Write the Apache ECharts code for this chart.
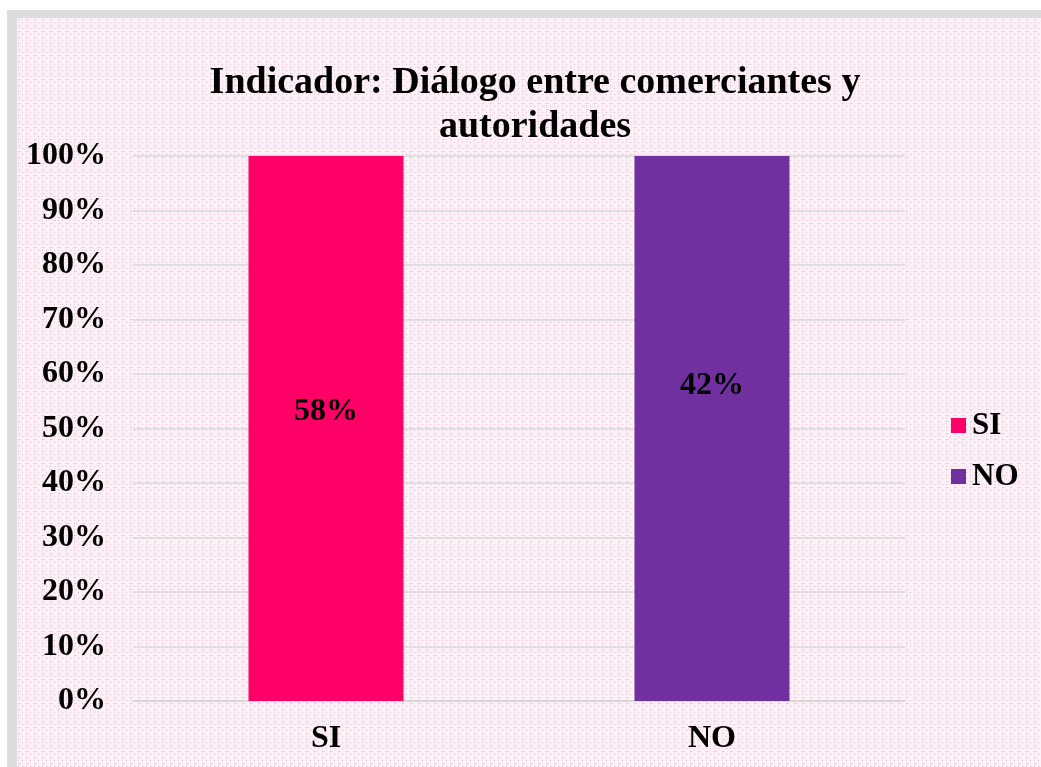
<!DOCTYPE html>
<html>
<head>
<meta charset="utf-8">
<script src="https://cdn.jsdelivr.net/npm/echarts@6/dist/echarts.min.js"></script>
<style>
  html, body { margin: 0; padding: 0; background: #fff; }
  #frame {
    position: absolute; left: 7px; top: 10px; width: 1034px; height: 757px;
    background: #dcdcdc;
  }
  #chart {
    position: absolute; left: 10px; top: 8px; width: 1024px; height: 749px;
    box-shadow: inset 3px 3px 3px rgba(80, 80, 80, 0.6);
  }
</style>
</head>
<body>
<div id="frame"><div id="chart"></div></div>
<script>
// datos
const categories = ['SI', 'NO'];
const seriesNames = ['SI', 'NO'];
const siValues = [58, 0];
const noValues = [0, 42];
const yTicks = [0, 10, 20, 30, 40, 50, 60, 70, 80, 90, 100];

const colors = ['#ff0066', '#7030a0'];

// columnas apiladas al 100%: cada valor se pasa a porcentaje del total de su categoría
const totals = categories.map((c, i) => siValues[i] + noValues[i]);
const toShare = arr => arr.map((v, i) => totals[i] ? v / totals[i] * 100 : 0);

// fondo con trama rosada
function makePattern() {
  const c = document.createElement('canvas');
  c.width = 8; c.height = 6;
  const ctx = c.getContext('2d');
  ctx.fillStyle = '#fdf1f7';
  ctx.fillRect(0, 0, 8, 6);
  ctx.fillStyle = '#dfbccd';
  ctx.fillRect(1, 1, 1, 1);
  ctx.fillRect(5, 4, 1, 1);
  ctx.fillStyle = '#efd8e4';
  ctx.fillRect(2, 1, 2, 1);
  ctx.fillRect(1, 3, 1, 2);
  return c;
}

const font = "'Liberation Serif', 'Times New Roman', serif";

const myChart = echarts.init(document.getElementById('chart'));

const labelOpt = (offsetY) => ({
  show: true,
  position: 'inside',
  offset: [0, offsetY],
  fontFamily: font,
  fontWeight: 'bold',
  fontSize: 32,
  color: '#000',
  formatter: function (params) {
    const raw = params.seriesIndex === 0 ? siValues[params.dataIndex] : noValues[params.dataIndex];
    if (!raw) {
      return '';
    }
    return raw + '%';
  }
});

const option = {
  backgroundColor: { image: makePattern(), repeat: 'repeat' },
  animation: false,
  title: {
    text: 'Indicador: Diálogo entre comerciantes y\nautoridades',
    left: 513,
    top: 38,
    textAlign: 'center',
    textStyle: {
      fontFamily: font,
      fontWeight: 'bold',
      fontSize: 38,
      lineHeight: 44,
      color: '#000'
    }
  },
  legend: {
    orient: 'vertical',
    left: 929,
    top: 387,
    itemWidth: 15,
    itemHeight: 15,
    itemGap: 20,
    icon: 'rect',
    data: seriesNames,
    textStyle: {
      fontFamily: font,
      fontWeight: 'bold',
      fontSize: 31,
      color: '#000',
      padding: [0, 0, 0, 1]
    }
  },
  grid: {
    left: 116,
    right: 136,
    top: 138,
    bottom: 66,
    containLabel: false
  },
  xAxis: {
    type: 'category',
    data: categories,
    axisLine: { lineStyle: { color: '#d9d9d9', width: 1.5 } },
    axisTick: { show: false },
    axisLabel: {
      fontFamily: font,
      fontWeight: 'bold',
      fontSize: 32,
      color: '#000',
      margin: 22
    }
  },
  yAxis: {
    type: 'value',
    min: yTicks[0],
    max: yTicks[yTicks.length - 1],
    interval: 10,
    axisLine: { show: false },
    axisTick: { show: false },
    axisLabel: {
      formatter: '{value}%',
      fontFamily: font,
      fontWeight: 'bold',
      fontSize: 32,
      color: '#000',
      margin: 27
    },
    splitLine: { lineStyle: { color: '#d9d9d9', width: 1.5 } }
  },
  series: [
    {
      name: seriesNames[0],
      type: 'bar',
      stack: 'total',
      barWidth: 155,
      itemStyle: { color: colors[0] },
      data: toShare(siValues),
      label: labelOpt(-17)
    },
    {
      name: seriesNames[1],
      type: 'bar',
      stack: 'total',
      barWidth: 155,
      itemStyle: { color: colors[1] },
      data: toShare(noValues),
      label: labelOpt(-43)
    }
  ]
};

myChart.setOption(option);
</script>
</body>
</html>
